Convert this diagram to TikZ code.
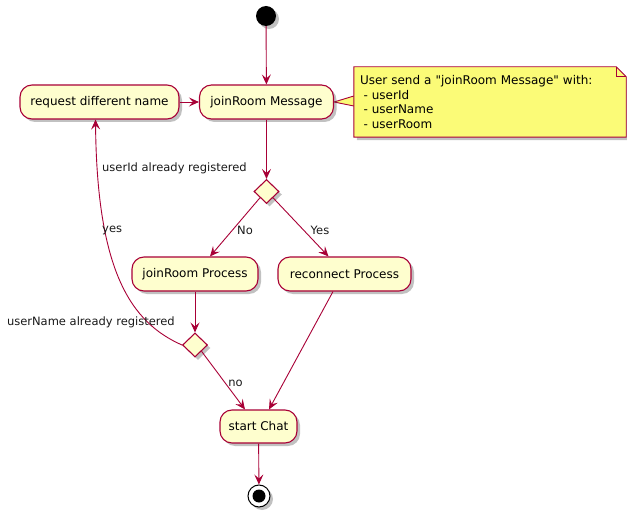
\documentclass[tikz,border=0pt]{standalone}
\usepackage{fontspec}
\setmainfont{DejaVu Sans}[Ligatures=TeXOff]
\usetikzlibrary{shapes.geometric,shadows,calc,arrows.meta,backgrounds}
\definecolor{pfill}{HTML}{FEFECE}
\definecolor{pline}{HTML}{A80036}
\definecolor{nfill}{HTML}{FBFB77}
\tikzset{
  shd/.style={drop shadow={shadow xshift=3pt,shadow yshift=-3pt,opacity=0.35,fill=black!70}},
  act/.style={rectangle, rounded corners=12pt, draw=pline, line width=1.1pt, fill=pfill, shd,
              minimum height=34pt, inner sep=0pt, font=\fontsize{12}{14}\selectfont},
  dec/.style={diamond, draw=pline, fill=pfill, line width=1.1pt, inner sep=0pt,
              minimum width=25pt, minimum height=24pt, shd},
  flow/.style={draw=pline, line width=0.9pt, -{Stealth[length=10pt,width=9pt,inset=4pt]}},
  lbl/.style={font=\fontsize{11.5}{13}\selectfont, text=black!90, inner sep=1pt},
}
\begin{document}
\begin{tikzpicture}[x=1pt,y=-1pt]
\useasboundingbox (0,0) rectangle (627,516);
% nodes
\node[circle, fill=black, minimum size=20pt, inner sep=0pt, shd] (start) at (266,16) {};
\node[act, minimum width=134pt] (jm) at (266.5,102) {joinRoom Message};
\node[act, minimum width=159pt] (req) at (99.5,102) {request different name};
\node[dec] (d1) at (266.5,191.5) {};
\node[act, minimum width=126pt] (jp) at (195,274) {joinRoom Process};
\node[act, minimum width=133pt] (rp) at (344.5,274) {reconnect Process};
\node[dec] (d2) at (195,345) {};
\node[act, minimum width=77pt, minimum height=33pt] (sc) at (258.5,426.5) {start Chat};
\node[circle, draw=black, line width=1pt, fill=white, minimum size=22pt, inner sep=0pt, shd] (stop) at (259,496) {};
\node[circle, fill=black, minimum size=13pt, inner sep=0pt] (stopdot) at (stop) {};
% note
\node[minimum width=272pt, minimum height=70pt, text width=260pt, align=left, inner sep=0pt,
      font=\fontsize{12}{14.5}\selectfont] (note) at (490,102)
  {User send a "joinRoom Message" with:\\\hspace*{3.5pt}- userId\\\hspace*{3.5pt}- userName\\\hspace*{3.5pt}- userRoom};
\begin{scope}[on background layer]
\draw[draw=pline, fill=nfill, line width=0.9pt] ($(note.west)+(0,-6)$) -- (jm.east) -- ($(note.west)+(0,4)$);
\draw[draw=pline, fill=nfill, line width=0.9pt, shd] (note.north west) -- ($(note.north east)+(-10,0)$)
  -- ($(note.north east)+(0,10)$) -- (note.south east) -- (note.south west) -- cycle;
\draw[draw=pline, line width=0.9pt] ($(note.north east)+(-10,0)$) -- ($(note.north east)+(-10,10)$) -- ($(note.north east)+(0,10)$);
\end{scope}
% edges
\draw[flow] (start) -- (jm);
\draw[flow] (req) -- (jm);
\draw[flow] (jm) -- (d1);
\draw[flow] (d1.south west) -- ($(jp.north)+(15,0)$);
\draw[flow] (d1.south east) -- ($(rp.north)+(-16,0)$);
\draw[flow] (jp) -- (d2);
\draw[flow] (d2.south east) -- ($(sc.north)+(-13.5,0)$);
\draw[flow] ($(rp.south)+(-11.5,0)$) -- ($(sc.north)+(10.5,0)$);
\draw[flow] (sc) -- (stop);
\draw[flow] (d2.west) .. controls (130,322) and (97,270) .. ($(req.south)+(-4,0)$);
% labels
\node[lbl, anchor=west] (l1) at (101,168) {userId already registered};
\node[lbl, anchor=west] (l2) at (101,230) {yes};
\node[lbl] (l3) at (245,230) {No};
\node[lbl] (l4) at (320,230) {Yes};
\node[lbl, anchor=east] (l5) at (176,322) {userName already registered};
\node[lbl] (l6) at (235.5,383) {no};
\end{tikzpicture}
\end{document}
